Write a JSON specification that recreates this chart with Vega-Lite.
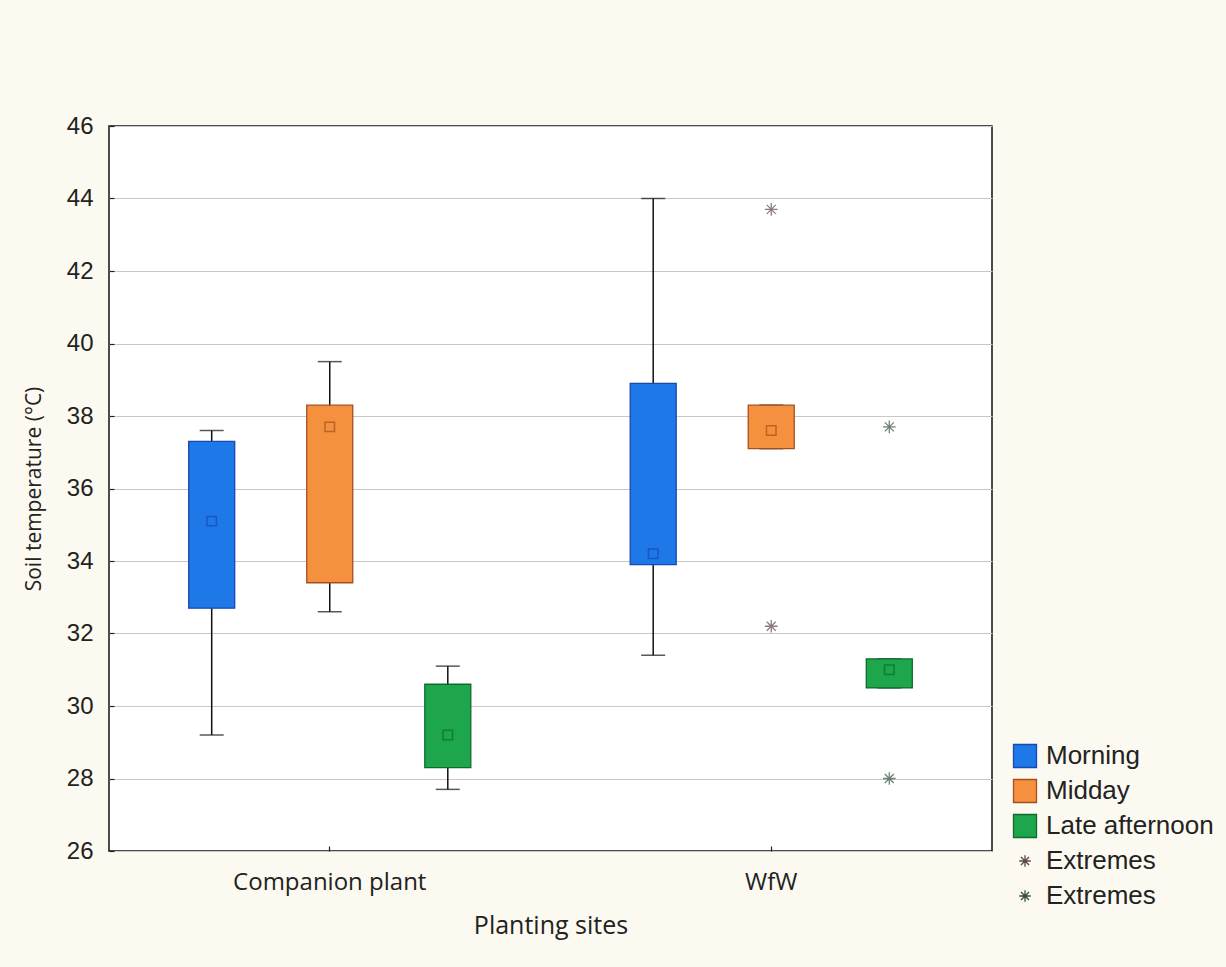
{
  "$schema": "https://vega.github.io/schema/vega-lite/v6.json",
  "width": 883,
  "height": 725,
  "autosize": {"type": "none"},
  "padding": {"left": 109, "top": 126, "right": 234, "bottom": 116},
  "background": "#FBF9F0",
  "config": {
    "view": {"fill": "white", "stroke": "#111111", "strokeWidth": 1.5},
    "axis": {"labelColor": "#222222", "titleColor": "#222222", "domain": false, "tickColor": "#222222", "tickWidth": 1.2, "labelLimit": 0}
  },
  "datasets": {
    "boxes": [
      {"site": "Companion plant", "time": "Morning", "key": "Morning", "min": 29.2, "q1": 32.7, "median": 35.1, "q3": 37.3, "max": 37.6},
      {"site": "Companion plant", "time": "Midday", "key": "Midday", "min": 32.6, "q1": 33.4, "median": 37.7, "q3": 38.3, "max": 39.5},
      {"site": "Companion plant", "time": "Late afternoon", "key": "Late afternoon", "min": 27.7, "q1": 28.3, "median": 29.2, "q3": 30.6, "max": 31.1},
      {"site": "WfW", "time": "Morning", "key": "Morning", "min": 31.4, "q1": 33.9, "median": 34.2, "q3": 38.9, "max": 44.0},
      {"site": "WfW", "time": "Midday", "key": "Midday", "min": 37.1, "q1": 37.1, "median": 37.6, "q3": 38.3, "max": 38.3},
      {"site": "WfW", "time": "Late afternoon", "key": "Late afternoon", "min": 30.5, "q1": 30.5, "median": 31.0, "q3": 31.3, "max": 31.3}
    ],
    "extremes": [
      {"site": "WfW", "time": "Midday", "key": "Extremes1", "value": 43.7},
      {"site": "WfW", "time": "Midday", "key": "Extremes1", "value": 32.2},
      {"site": "WfW", "time": "Late afternoon", "key": "Extremes2", "value": 37.7},
      {"site": "WfW", "time": "Late afternoon", "key": "Extremes2", "value": 28.0}
    ]
  },
  "encoding": {
    "x": {
      "field": "site", "type": "nominal",
      "scale": {"domain": ["Companion plant", "WfW"], "paddingInner": 0, "paddingOuter": 0},
      "axis": {"title": "Planting sites", "labelAngle": 0, "labelFont": "Open Sans", "labelFontSize": 24, "titleFont": "Open Sans", "titleFontSize": 25, "titleFontWeight": "normal", "offset": -5, "tickSize": 5, "labelPadding": 19, "titlePadding": 19, "grid": false}
    },
    "xOffset": {
      "field": "time", "type": "nominal",
      "scale": {"domain": ["Morning", "Midday", "Late afternoon"], "paddingInner": 0, "paddingOuter": 0.37}
    }
  },
  "layer": [
    {
      "data": {"name": "boxes"},
      "mark": {"type": "rule", "color": "#111111", "strokeWidth": 1.5},
      "encoding": {
        "y": {
          "field": "min", "type": "quantitative",
          "scale": {"domain": [26, 46], "nice": false, "zero": false},
          "axis": {"title": "Soil temperature (°C)", "values": [26, 28, 30, 32, 34, 36, 38, 40, 42, 44, 46], "labelFont": "Liberation Sans", "labelFontSize": 24, "titleFont": "Open Sans", "titleFontSize": 21, "titleFontWeight": "normal", "offset": -5, "tickSize": 5, "labelPadding": 16, "titlePadding": 22, "grid": true, "gridColor": "#c8c8c8", "gridWidth": 1}
        },
        "y2": {"field": "max"}
      }
    },
    {
      "data": {"name": "boxes"},
      "mark": {"type": "tick", "color": "#111111", "size": 24, "thickness": 1.5},
      "encoding": {"y": {"field": "min", "type": "quantitative"}}
    },
    {
      "data": {"name": "boxes"},
      "mark": {"type": "tick", "color": "#111111", "size": 24, "thickness": 1.5},
      "encoding": {"y": {"field": "max", "type": "quantitative"}}
    },
    {
      "data": {"name": "boxes"},
      "mark": {"type": "bar", "width": 46, "strokeWidth": 1.3},
      "encoding": {
        "y": {"field": "q3", "type": "quantitative"},
        "y2": {"field": "q1"},
        "fill": {
          "field": "key", "type": "nominal",
          "scale": {"domain": ["Morning", "Midday", "Late afternoon", "Extremes1", "Extremes2"], "range": ["#1F78E8", "#F5903E", "#1DA64C", "transparent", "transparent"]},
          "legend": {
            "title": null, "orient": "none", "legendX": 903, "legendY": 615,
            "symbolSize": 529, "symbolStrokeWidth": 1.3,
            "labelFont": "Liberation Sans", "labelFontSize": 26, "labelColor": "#222222", "labelLimit": 0,
            "rowPadding": 5, "labelOffset": 8, "clipHeight": 30,
            "labelExpr": "indexof(datum.label, 'Extremes') == 0 ? 'Extremes' : datum.label"
          }
        },
        "stroke": {
          "field": "key", "type": "nominal",
          "scale": {"domain": ["Morning", "Midday", "Late afternoon", "Extremes1", "Extremes2"], "range": ["#1848B0", "#A4501E", "#0E6A2E", "#5A4646", "#33503C"]}
        }
      }
    },
    {
      "data": {"name": "boxes"},
      "mark": {"type": "point", "shape": "square", "size": 90, "filled": false, "strokeWidth": 1.5},
      "encoding": {
        "y": {"field": "median", "type": "quantitative"},
        "stroke": {"field": "key", "type": "nominal"}
      }
    },
    {
      "data": {"name": "extremes"},
      "mark": {"type": "point", "size": 650, "strokeWidth": 1.3, "filled": false},
      "encoding": {
        "y": {"field": "value", "type": "quantitative"},
        "stroke": {"field": "key", "type": "nominal"},
        "shape": {
          "field": "key", "type": "nominal",
          "scale": {"domain": ["Morning", "Midday", "Late afternoon", "Extremes1", "Extremes2"], "range": ["square", "square", "square", "M-0.5,0L0.5,0M0,-0.5L0,0.5M-0.35,-0.35L0.35,0.35M-0.35,0.35L0.35,-0.35", "M-0.5,0L0.5,0M0,-0.5L0,0.5M-0.35,-0.35L0.35,0.35M-0.35,0.35L0.35,-0.35"]}
        }
      }
    }
  ]
}
